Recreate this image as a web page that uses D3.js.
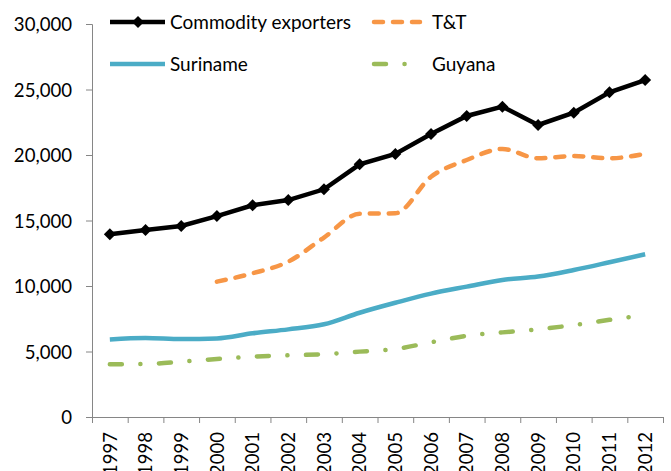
<!DOCTYPE html>
<html>
<head>
<meta charset="utf-8">
<script src="https://cdn.jsdelivr.net/npm/d3@7"></script>
<style>
  body { margin: 0; background: #fff; }
  text { font-family: Lato, "Open Sans", sans-serif; fill: #000; }
</style>
</head>
<body>
<svg id="chart" width="671" height="471"></svg>
<script>
const years = ["1997","1998","1999","2000","2001","2002","2003","2004","2005","2006","2007","2008","2009","2010","2011","2012"];
const commodityExporters = [13950,14270,14580,15340,16160,16560,17380,19290,20080,21600,22980,23690,22290,23230,24790,25720];
const tt = [null,null,null,10330,10970,11860,13700,15520,15550,18340,19620,20460,19750,19920,19750,20100];
const suriname = [5920,6030,5950,6000,6390,6690,7080,7960,8720,9420,9950,10460,10720,11220,11810,12420];
const guyana = [4030,4050,4220,4430,4600,4710,4790,4990,5190,5700,6200,6460,6690,7020,7420,7790];
const yTicks = [0,5000,10000,15000,20000,25000,30000];

let svg = d3.select("#chart")
let margin = {left: 92, right: 8, top: 24, bottom: 54}
let width = 671 - margin.left - margin.right
let height = 471 - margin.top - margin.bottom

let g = svg.append("g").attr("transform", "translate(" + margin.left + "," + margin.top + ")")

let x = d3.scaleBand().domain(years).range([0, width])
let xEdge = d3.scaleLinear().domain([0, years.length]).range([0, width])
let y = d3.scaleLinear().domain([0, 30000]).range([height, 0])

// y axis
let yAxis = g.append("g")
    .call(d3.axisLeft(y).tickValues(yTicks).tickSize(6).tickPadding(14).tickFormat(d3.format(",")))
yAxis.selectAll("text").style("font-size", "18.6px").attr("dy", "0.35em")

// x axis: ticks at band edges, labels at centres
let xTicks = g.append("g")
    .attr("transform", "translate(0," + height + ")")
    .call(d3.axisBottom(xEdge).tickValues(d3.range(0, years.length + 1)).tickSize(6).tickFormat(""))

let xLabels = g.append("g")
    .attr("transform", "translate(0," + height + ")")
    .call(d3.axisBottom(x).tickSize(0))
xLabels.select(".domain").remove()
xLabels.selectAll("text")
    .style("font-size", "18.6px")
    .attr("text-anchor", "end")
    .attr("transform", "rotate(-90)")
    .attr("x", -15)
    .attr("y", 0)
    .attr("dy", "0.36em")

g.selectAll(".domain, .tick line").attr("stroke", "#868686").attr("stroke-width", 1)

function toPoints(values) {
    return values.map((v, i) => [years[i], v])
}

let smooth = d3.line()
    .x(d => x(d[0]) + x.bandwidth() / 2)
    .y(d => y(d[1]))
    .curve(d3.curveMonotoneX)

let straight = d3.line()
    .x(d => x(d[0]) + x.bandwidth() / 2)
    .y(d => y(d[1]))

g.append("path").datum(toPoints(guyana))
    .attr("d", smooth).attr("fill", "none")
    .attr("stroke", "#9BBB59").attr("stroke-width", 4.5)
    .attr("stroke-linecap", "round").attr("stroke-dasharray", "12,18.5,0.1,18.5")

g.append("path").datum(toPoints(suriname))
    .attr("d", smooth).attr("fill", "none")
    .attr("stroke", "#4BACC6").attr("stroke-width", 4.5)

g.append("path").datum(toPoints(tt).filter(d => d[1] != null))
    .attr("d", smooth).attr("fill", "none")
    .attr("stroke", "#F79646").attr("stroke-width", 4.5)
    .attr("stroke-linecap", "round").attr("stroke-dasharray", "9,10")

g.append("path").datum(toPoints(commodityExporters))
    .attr("d", straight).attr("fill", "none")
    .attr("stroke", "#000").attr("stroke-width", 4.5)

let diamond = d3.symbol().type(d3.symbolSquare).size(72)
g.append("g").selectAll("path")
    .data(toPoints(commodityExporters))
    .enter()
    .append("path")
    .attr("d", diamond)
    .attr("transform", d => "translate(" + (x(d[0]) + x.bandwidth() / 2) + "," + y(d[1]) + ") rotate(45)")
    .attr("fill", "#000")

// legend
let legendEntries = [
    {name: "Commodity exporters", color: "#000", dash: null, marker: true, lx: 110, ly: 22},
    {name: "T&T", color: "#F79646", dash: "9,10", marker: false, lx: 372, ly: 22},
    {name: "Suriname", color: "#4BACC6", dash: null, marker: false, lx: 110, ly: 64},
    {name: "Guyana", color: "#9BBB59", dash: "12,18.5,0.1,18.5", marker: false, lx: 372, ly: 64}
]

let legend = svg.append("g")
let items = legend.selectAll("g").data(legendEntries).enter().append("g")
    .attr("transform", d => "translate(" + d.lx + "," + d.ly + ")")

items.append("line")
    .attr("x1", d => d.dash ? 2 : 0)
    .attr("x2", d => d.dash ? 48 : 55)
    .attr("y1", 0).attr("y2", 0)
    .attr("stroke", d => d.color)
    .attr("stroke-width", 4.5)
    .attr("stroke-linecap", d => d.dash ? "round" : "butt")
    .attr("stroke-dasharray", d => d.dash)

items.filter(d => d.marker).append("path")
    .attr("d", diamond)
    .attr("transform", "translate(28,0) rotate(45)")
    .attr("fill", "#000")

items.append("text")
    .attr("x", 60)
    .attr("y", 0)
    .attr("dy", "0.35em")
    .style("font-size", "19px")
    .text(d => d.name)
</script>
</body>
</html>
